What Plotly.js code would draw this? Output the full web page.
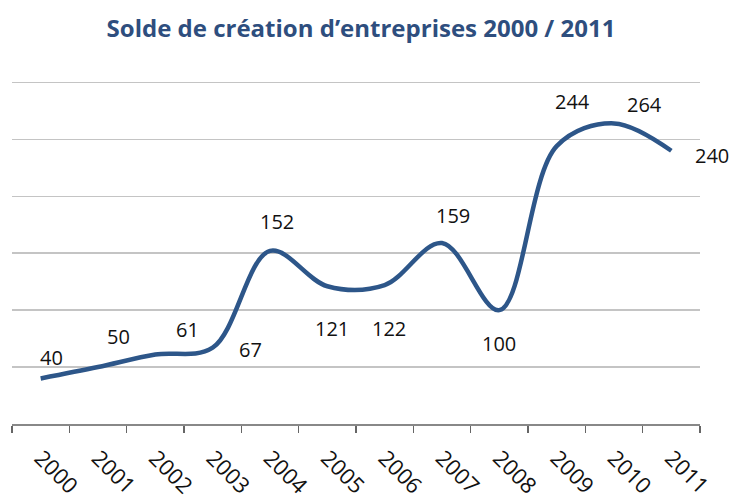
<!DOCTYPE html>
<html>
<head>
<meta charset="utf-8">
<script src="https://cdn.plot.ly/plotly-3.0.1.min.js"></script>
<style>html,body{margin:0;padding:0;background:#fff;}#chart{width:734px;height:502px;}</style>
</head>
<body>
<div id="chart"></div>
<script>
// Data
const years = ['2000','2001','2002','2003','2004','2005','2006','2007','2008','2009','2010','2011'];
const solde = [40, 50, 61, 67, 152, 121, 122, 159, 100, 244, 264, 240];

// Label placement offsets (px) relative to each point
const labelDx = [11, 20, 32, 38, 7, 5, 4, 11, 0, 16, 30, 41];
const labelDy = [21, 31, 25, -2, 29, -42, -43, 27, -33, 45, 19, -5];

const lineColor = '#2D5689';

const trace = {
  x: years,
  y: solde,
  type: 'scatter',
  mode: 'lines',
  line: {color: lineColor, width: 4.5, shape: 'spline', smoothing: 1},
  hoverinfo: 'x+y'
};

const annotations = years.map((yr, i) => ({
  x: i, y: solde[i], xref: 'x', yref: 'y',
  text: String(solde[i]), showarrow: false,
  xshift: labelDx[i], yshift: labelDy[i],
  font: {family: 'Open Sans, sans-serif', size: 20, color: '#111'}
}));

const layout = {
  width: 734, height: 502,
  margin: {l: 12, r: 34, t: 79, b: 78},
  paper_bgcolor: '#fff', plot_bgcolor: '#fff',
  showlegend: false,
  title: {
    text: 'Solde de création d\u2019entreprises 2000 / 2011',
    font: {family: 'Open Sans, sans-serif', size: 24, color: '#2E4E7E', weight: 'bold'},
    x: 361/734, xref: 'container', xanchor: 'center',
    y: 1 - 29/502, yref: 'container', yanchor: 'middle'
  },
  xaxis: {
    type: 'category',
    range: [-0.5, 11.5],
    tickson: 'boundaries',
    ticks: 'outside', ticklen: 7, tickwidth: 1.5, tickcolor: '#666',
    showline: true, linecolor: '#888', linewidth: 1.5,
    showgrid: false, zeroline: false,
    tickangle: 45,
    ticklabelstandoff: 11,
    tickfont: {family: 'Open Sans, sans-serif', size: 22, color: '#111'},
    fixedrange: true
  },
  yaxis: {
    range: [0, 303],
    dtick: 50, tick0: 0,
    showticklabels: false,
    showgrid: true, gridcolor: '#C4C4C4', gridwidth: 1.5,
    zeroline: false, showline: false, ticks: '',
    fixedrange: true
  },
  annotations: annotations
};

Plotly.newPlot('chart', [trace], layout, {displayModeBar: false, staticPlot: true});
</script>
</body>
</html>
